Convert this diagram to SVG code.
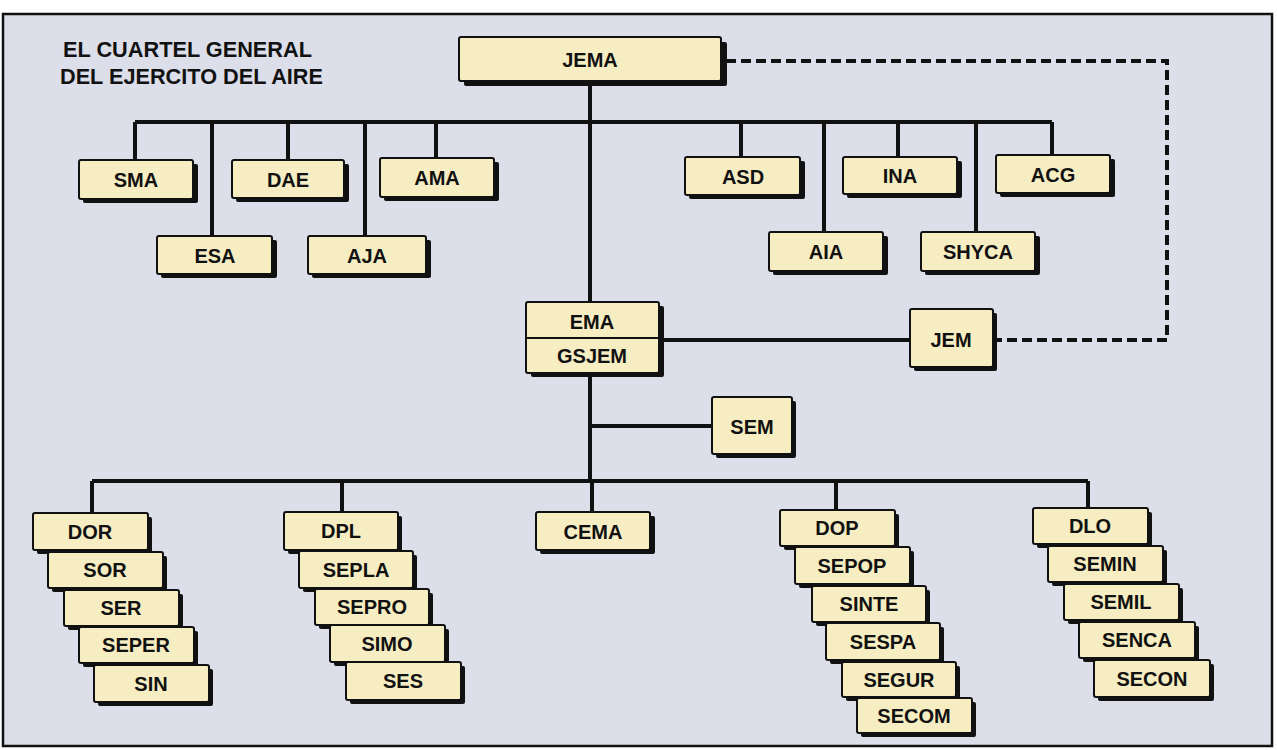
<svg xmlns="http://www.w3.org/2000/svg" width="1277" height="750" viewBox="0 0 1277 750">
<style>
.bg{fill:#dcdfe9;stroke:#111;stroke-width:2.5}
.sh{fill:#111}
.bx{fill:#f6edc2;stroke:#111;stroke-width:2}
.t{font-family:"Liberation Sans",Arial,sans-serif;font-weight:bold;font-size:20px;fill:#111;text-anchor:middle}
.title{font-family:"Liberation Sans",Arial,sans-serif;font-weight:bold;font-size:21.5px;fill:#111}
.c{stroke:#111;stroke-width:4;fill:none}
.d{stroke:#111;stroke-width:4;fill:none;stroke-dasharray:10 5}
</style>
<rect x="0" y="0" width="1277" height="750" fill="#ffffff"/>
<rect class="bg" x="3" y="14" width="1269" height="732"/>
<g id="title">
<text class="title" x="63" y="57" textLength="249" lengthAdjust="spacingAndGlyphs">EL CUARTEL GENERAL</text>
<text class="title" x="60" y="84" textLength="263" lengthAdjust="spacingAndGlyphs">DEL EJERCITO DEL AIRE</text>
</g>
<g id="connectors">
<path class="c" d="M590 82V301"/>
<path class="c" d="M135 122H1052"/>
<path class="c" d="M135 122V160M212 122V236M288 122V160M365 122V236M436 122V158"/>
<path class="c" d="M741 122V157M824 122V232M898 122V157M976 122V232M1052 122V155"/>
<path class="c" d="M660 340H910"/>
<path class="c" d="M590 373V481M590 426H712"/>
<path class="c" d="M92 481H1088"/>
<path class="c" d="M92 481V513M342 481V512M592 481V512M836 481V510M1088 481V508"/>
<path class="d" d="M726 61H1167V340H997"/>
</g>
<g id="JEMA"><rect class="sh" x="464" y="42" width="263" height="44" rx="2"/><rect class="bx" x="459" y="37" width="262" height="44" rx="2"/><text class="t" x="590" y="67">JEMA</text></g>
<g id="SMA"><rect class="sh" x="83" y="164" width="115" height="39" rx="2"/><rect class="bx" x="79" y="160" width="114" height="39" rx="2"/><text class="t" x="136" y="187">SMA</text></g>
<g id="DAE"><rect class="sh" x="236" y="164" width="113" height="38" rx="2"/><rect class="bx" x="232" y="160" width="112" height="38" rx="2"/><text class="t" x="288" y="187">DAE</text></g>
<g id="AMA"><rect class="sh" x="384" y="162" width="115" height="39" rx="2"/><rect class="bx" x="380" y="158" width="114" height="39" rx="2"/><text class="t" x="437" y="185">AMA</text></g>
<g id="ESA"><rect class="sh" x="161" y="240" width="116" height="38" rx="2"/><rect class="bx" x="157" y="236" width="115" height="38" rx="2"/><text class="t" x="215" y="263">ESA</text></g>
<g id="AJA"><rect class="sh" x="312" y="240" width="119" height="38" rx="2"/><rect class="bx" x="308" y="236" width="118" height="38" rx="2"/><text class="t" x="367" y="263">AJA</text></g>
<g id="ASD"><rect class="sh" x="689" y="161" width="116" height="38" rx="2"/><rect class="bx" x="685" y="157" width="115" height="38" rx="2"/><text class="t" x="743" y="184">ASD</text></g>
<g id="INA"><rect class="sh" x="847" y="161" width="115" height="37" rx="2"/><rect class="bx" x="843" y="157" width="114" height="37" rx="2"/><text class="t" x="900" y="183">INA</text></g>
<g id="ACG"><rect class="sh" x="1000" y="159" width="115" height="38" rx="2"/><rect class="bx" x="996" y="155" width="114" height="38" rx="2"/><text class="t" x="1053" y="182">ACG</text></g>
<g id="AIA"><rect class="sh" x="773" y="236" width="115" height="39" rx="2"/><rect class="bx" x="769" y="232" width="114" height="39" rx="2"/><text class="t" x="826" y="259">AIA</text></g>
<g id="SHYCA"><rect class="sh" x="925" y="236" width="115" height="39" rx="2"/><rect class="bx" x="921" y="232" width="114" height="39" rx="2"/><text class="t" x="978" y="259">SHYCA</text></g>
<g id="EMA"><rect class="sh" x="531" y="306" width="133" height="71" rx="2"/><rect class="bx" x="526" y="302" width="133" height="71" rx="2"/><path d="M526 338H659" stroke="#111" stroke-width="2"/><text class="t" x="592" y="329">EMA</text><text class="t" x="592" y="363">GSJEM</text></g>
<g id="JEM"><rect class="sh" x="914" y="313" width="83" height="58" rx="2"/><rect class="bx" x="910" y="309" width="83" height="58" rx="2"/><text class="t" x="951" y="347">JEM</text></g>
<g id="SEM"><rect class="sh" x="716" y="401" width="80" height="57" rx="2"/><rect class="bx" x="712" y="397" width="80" height="57" rx="2"/><text class="t" x="752" y="434">SEM</text></g>
<g id="CEMA"><rect class="sh" x="540" y="516" width="115" height="38" rx="2"/><rect class="bx" x="536" y="512" width="114" height="38" rx="2"/><text class="t" x="593" y="539">CEMA</text></g>
<g id="DOR"><rect class="sh" x="37" y="517" width="115" height="37" rx="2"/><rect class="bx" x="33" y="513" width="115" height="37" rx="2"/><text class="t" x="90" y="539">DOR</text></g>
<g id="SOR"><rect class="sh" x="52" y="556" width="115" height="36" rx="2"/><rect class="bx" x="48" y="552" width="115" height="36" rx="2"/><text class="t" x="105" y="577">SOR</text></g>
<g id="SER"><rect class="sh" x="68" y="594" width="115" height="36" rx="2"/><rect class="bx" x="64" y="590" width="115" height="36" rx="2"/><text class="t" x="121" y="615">SER</text></g>
<g id="SEPER"><rect class="sh" x="83" y="631" width="115" height="36" rx="2"/><rect class="bx" x="79" y="627" width="115" height="36" rx="2"/><text class="t" x="136" y="652">SEPER</text></g>
<g id="SIN"><rect class="sh" x="98" y="669" width="115" height="37" rx="2"/><rect class="bx" x="94" y="665" width="115" height="37" rx="2"/><text class="t" x="151" y="691">SIN</text></g>
<g id="DPL"><rect class="sh" x="288" y="516" width="114" height="38" rx="2"/><rect class="bx" x="284" y="512" width="114" height="38" rx="2"/><text class="t" x="341" y="538">DPL</text></g>
<g id="SEPLA"><rect class="sh" x="303" y="555" width="114" height="37" rx="2"/><rect class="bx" x="299" y="551" width="114" height="37" rx="2"/><text class="t" x="356" y="577">SEPLA</text></g>
<g id="SEPRO"><rect class="sh" x="319" y="593" width="114" height="36" rx="2"/><rect class="bx" x="315" y="589" width="114" height="36" rx="2"/><text class="t" x="372" y="614">SEPRO</text></g>
<g id="SIMO"><rect class="sh" x="334" y="629" width="115" height="37" rx="2"/><rect class="bx" x="330" y="625" width="115" height="37" rx="2"/><text class="t" x="387" y="651">SIMO</text></g>
<g id="SES"><rect class="sh" x="350" y="666" width="115" height="38" rx="2"/><rect class="bx" x="346" y="662" width="115" height="38" rx="2"/><text class="t" x="403" y="688">SES</text></g>
<g id="DOP"><rect class="sh" x="784" y="514" width="115" height="36" rx="2"/><rect class="bx" x="780" y="510" width="115" height="36" rx="2"/><text class="t" x="837" y="535">DOP</text></g>
<g id="SEPOP"><rect class="sh" x="799" y="551" width="115" height="37" rx="2"/><rect class="bx" x="795" y="547" width="115" height="37" rx="2"/><text class="t" x="852" y="573">SEPOP</text></g>
<g id="SINTE"><rect class="sh" x="816" y="590" width="114" height="36" rx="2"/><rect class="bx" x="812" y="586" width="114" height="36" rx="2"/><text class="t" x="869" y="611">SINTE</text></g>
<g id="SESPA"><rect class="sh" x="830" y="627" width="114" height="37" rx="2"/><rect class="bx" x="826" y="623" width="114" height="37" rx="2"/><text class="t" x="883" y="649">SESPA</text></g>
<g id="SEGUR"><rect class="sh" x="846" y="666" width="114" height="35" rx="2"/><rect class="bx" x="842" y="662" width="114" height="35" rx="2"/><text class="t" x="899" y="687">SEGUR</text></g>
<g id="SECOM"><rect class="sh" x="861" y="702" width="115" height="35" rx="2"/><rect class="bx" x="857" y="698" width="115" height="35" rx="2"/><text class="t" x="914" y="723">SECOM</text></g>
<g id="DLO"><rect class="sh" x="1037" y="512" width="115" height="36" rx="2"/><rect class="bx" x="1033" y="508" width="115" height="36" rx="2"/><text class="t" x="1090" y="533">DLO</text></g>
<g id="SEMIN"><rect class="sh" x="1052" y="550" width="115" height="36" rx="2"/><rect class="bx" x="1048" y="546" width="115" height="36" rx="2"/><text class="t" x="1105" y="571">SEMIN</text></g>
<g id="SEMIL"><rect class="sh" x="1068" y="588" width="115" height="36" rx="2"/><rect class="bx" x="1064" y="584" width="115" height="36" rx="2"/><text class="t" x="1121" y="609">SEMIL</text></g>
<g id="SENCA"><rect class="sh" x="1083" y="626" width="116" height="36" rx="2"/><rect class="bx" x="1079" y="622" width="116" height="36" rx="2"/><text class="t" x="1137" y="647">SENCA</text></g>
<g id="SECON"><rect class="sh" x="1098" y="664" width="116" height="37" rx="2"/><rect class="bx" x="1094" y="660" width="116" height="37" rx="2"/><text class="t" x="1152" y="686">SECON</text></g>
</svg>
